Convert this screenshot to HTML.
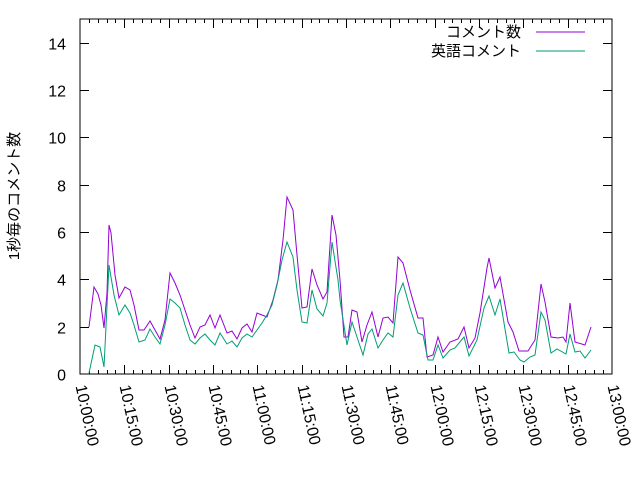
<!DOCTYPE html>
<html><head><meta charset="utf-8"><style>
html,body{margin:0;padding:0;background:#fff;}
svg{display:block;}
text{font-family:"Liberation Sans","Noto Sans CJK JP",sans-serif;fill:#000;}
</style></head><body>
<svg id="s" width="640" height="480" viewBox="0 0 640 480" xmlns="http://www.w3.org/2000/svg">
<rect width="640" height="480" fill="#fff"/>
<g id="ticks" stroke="#000" stroke-width="1" fill="none"></g>
<g id="labels" font-size="16"></g>
<text x="0" y="0" font-size="15" text-anchor="middle" transform="translate(19,196) rotate(-90)">1秒毎のコメント数</text>
<polyline fill="none" stroke="#9400d3" stroke-width="1" points="89,327 94,287 98,294 101,305 104,328 107,293 109,225 111,233 115,275 119,298 125,287 130,290 134,305 139,330 144,330 150,321 155,330 160,339 165,320 170,273 175,283 180,295 185,310 190,325 195,338 200,327 205,325 210,315 215,328 220,315 227,333 232,331 237,339 242,328 247,324 252,332 257,313 262,315 267,317 273,300 278,280 283,240 287,197 293,210 297,255 302,308 307,307 312,269 317,285 323,299 327,292 332,215 336,235 340,280 344,337 348,337 352,310 357,312 362,342 367,325 372,312 378,337 383,318 388,317 393,323 398,257 403,263 410,290 418,318 423,318 427,357 433,355 438,337 443,352 450,342 458,339 464,327 469,348 475,338 480,313 487,268 489,258 495,288 500,277 508,322 513,332 519,351 528,351 535,340 541,284 545,302 551,337 558,338 563,337 566,342 570,303 575,342 585,345 591,327"/>
<polyline fill="none" stroke="#009e73" stroke-width="1" points="89,373 95,345 100,347 104,367 109,265 114,295 119,315 125,305 130,313 134,325 139,342 145,340 150,329 155,337 160,344 165,325 170,299 175,303 180,308 185,325 190,340 195,344 200,338 205,334 210,340 215,345 220,333 227,344 232,341 237,347 242,338 247,334 252,337 257,330 262,323 267,315 272,305 277,285 282,260 287,242 293,257 297,290 302,322 307,323 312,290 317,309 323,316 327,303 332,242 338,280 340,300 347,345 352,322 358,340 363,355 368,334 372,329 378,348 383,340 388,333 393,337 398,295 403,283 410,308 418,333 423,335 428,360 433,360 438,345 443,358 450,350 455,348 464,337 469,356 477,340 484,308 489,296 495,315 500,299 509,353 514,352 520,360 524,362 530,357 535,355 541,312 545,320 551,353 557,349 566,354 570,334 575,352 580,351 585,358 591,350"/>
<rect x="80" y="19" width="532" height="355" fill="none" stroke="#000" stroke-width="1"/>
<text x="521" y="37" font-size="15" text-anchor="end">コメント数</text>
<line x1="536" y1="32" x2="585" y2="32" stroke="#9400d3"/>
<text x="521" y="56" font-size="15" text-anchor="end">英語コメント</text>
<line x1="536" y1="51" x2="585" y2="51" stroke="#009e73"/>
</svg>
<script>
var t=document.getElementById('ticks'),l=document.getElementById('labels'),d='';
var L=80,R=612,T=19,B=374;
for(var i=0;i<=7;i++){var y=B-i*2*23.667;y=Math.round(y)+0.5;
 if(i>0&&i<8){d+='M'+L+' '+y+'h9M'+R+' '+y+'h-9';}
 l.innerHTML+='<text x="66" y="'+(y+6)+'" text-anchor="end">'+(i*2)+'</text>';}
var names=['10:00:00','10:15:00','10:30:00','10:45:00','11:00:00','11:15:00','11:30:00','11:45:00','12:00:00','12:15:00','12:30:00','12:45:00','13:00:00'];
for(var k=0;k<=60;k++){var x=Math.round(L+k*532/60)+0.5;var len=(k%5==0)?9:4;
 if(k>0&&k<60){d+='M'+x+' '+B+'v-'+len+'M'+x+' '+T+'v'+len;}
 if(k%5==0){var j=k/5;l.innerHTML+='<text x="0" y="0" transform="translate('+(x-5)+',386) rotate(78)">'+names[j]+'</text>';}}
var p=document.createElementNS('http://www.w3.org/2000/svg','path');p.setAttribute('d',d);t.appendChild(p);
</script>
</body></html>
